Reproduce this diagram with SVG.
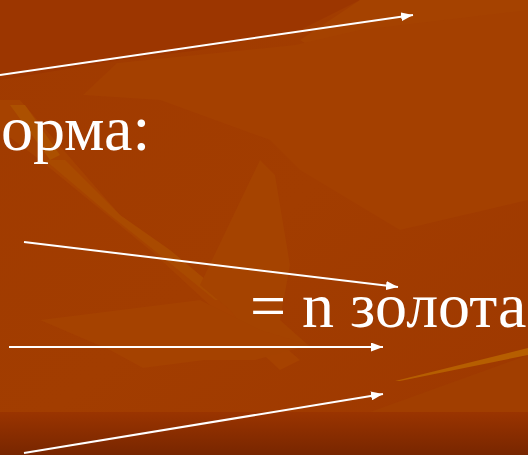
<svg xmlns="http://www.w3.org/2000/svg" width="528" height="455" viewBox="0 0 528 455">
<defs>
<linearGradient id="bg" x1="0" y1="0" x2="1" y2="1">
<stop offset="0" stop-color="#A03A00"/>
<stop offset="0.5" stop-color="#A23D00"/>
<stop offset="1" stop-color="#9E3800"/>
</linearGradient>
<linearGradient id="bottom" x1="0" y1="0" x2="0" y2="1">
<stop offset="0" stop-color="#9A3400"/>
<stop offset="1" stop-color="#782600"/>
</linearGradient>
<marker id="ah" viewBox="0 0 12 9" refX="12" refY="4.5" markerWidth="12" markerHeight="9" markerUnits="userSpaceOnUse" orient="auto">
<path d="M0,0 L12,4.5 L0,9 Z" fill="#FFFFFF"/>
</marker>
<style>
.arr{stroke:#FFFFFF;stroke-width:2;fill:none;marker-end:url(#ah)}
.t{font-family:"Liberation Serif","Times New Roman",serif;font-size:64px;fill:#FFFFFF}
</style>
</defs>
<rect width="528" height="455" fill="url(#bg)"/>
<polygon points="0,0 360,0 300,30 200,50 120,60 0,80" fill="#9C3600"/>
<polygon points="360,0 528,0 528,130 460,140 420,120 300,40" fill="#A54200"/>
<polygon points="117,63 295,45 360,30 528,10 528,200 400,230 300,170 270,140 160,100 83,95" fill="#A44000"/>
<polygon points="0,100 20,100 120,215 230,300 300,360 280,370 150,250 40,160 0,130" fill="#A64200"/>
<polygon points="10,105 25,105 60,155 50,160" fill="#AC5000"/>
<polygon points="45,160 65,160 120,215 170,250 230,300 215,300 160,255 110,215" fill="#A94A00"/>
<polygon points="260,160 275,175 290,265 280,320 308,345 260,350 230,310 200,285" fill="#A54300"/>
<polygon points="40,320 200,300 260,330 310,345 255,360 205,360 143,368 110,350" fill="#A54200"/>
<polygon points="370,412 528,355 528,412" fill="#A13E00"/>
<polygon points="395,381 528,348 528,355 400,381" fill="#B65E00"/>
<rect x="0" y="412" width="528" height="43" fill="url(#bottom)"/>
<g id="connectors">
<line class="arr" x1="0" y1="75" x2="413" y2="15"/>
<line class="arr" x1="24" y1="242" x2="398" y2="287"/>
<line class="arr" x1="9" y1="347" x2="383" y2="347"/>
<line class="arr" x1="24" y1="453" x2="383" y2="394"/>
</g>
<g id="text1"><text class="t" x="1" y="150" font-size="63">орма:</text></g>
<g id="text2"><text class="t" x="250" y="327">= n золота</text></g>
</svg>
